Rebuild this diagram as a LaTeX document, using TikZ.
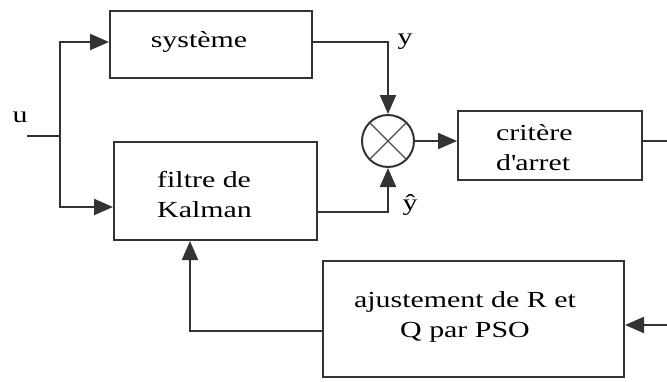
\documentclass[tikz,border=0pt]{standalone}
\usepackage{fontspec}
\setmainfont[FakeStretch=1.3]{Liberation Serif}
\usetikzlibrary{arrows.meta,calc}
\begin{document}
\begin{tikzpicture}[x=1pt,y=-1pt,
  ln/.style={draw=black!80,line width=2pt},
  box/.style={ln,rectangle,inner sep=0pt,minimum width=#1},
  txt/.style={inner sep=0pt,font=\fontsize{23}{30}\selectfont,text=black},
  arr/.style={ln,-{Triangle[length=19pt,width=16pt]}}]
\useasboundingbox (0,0) rectangle (667,381);
% boxes
\node[box=202pt,minimum height=67pt] (sys) at (211,44.5) {};
\node[box=203pt,minimum height=98pt] (kal) at (215.5,191) {};
\node[ln,circle,minimum size=52pt,inner sep=0pt] (mul) at (388,141) {};
\draw[draw=black!70,line width=1.2pt] (mul.north west) -- (mul.south east) (mul.north east) -- (mul.south west);
\node[box=184pt,minimum height=69pt] (crit) at (550,145.5) {};
\node[box=301pt,minimum height=116pt] (pso) at (473.5,319) {};
% texts
\node[txt] (tsys) at (199,42) {système};
\node[txt,anchor=west,align=left] (tkal) at (157,195) {filtre de\\Kalman};
\node[txt,anchor=west,align=left] (tcrit) at (496,148) {critère\\d\textquotesingle arret};
\node[txt,align=center] (tpso) at (465,317) {ajustement de R et\\Q par PSO};
\node[txt] (tu) at (20,117) {u};
\node[txt] (ty) at (405,42) {y};
\node[txt] (tyh) at (410,205) {ŷ};
% connectors
\coordinate (uin) at (27,136);
\coordinate (j) at (60,136);
\coordinate (a1) at (60,42);
\coordinate (a2) at (60,207);
\draw[ln] (uin) -- (j);
\draw[arr] (j) -- (a1) -- (a1 -| sys.west);
\draw[arr] (j) -- (a2) -- (a2 -| kal.west);
\draw[arr] (sys.east |- a1) -| (mul.north);
\coordinate (ko) at (317,212);
\draw[arr] (ko) -| (mul.south);
\draw[arr] (mul.east) -- (mul.east -| crit.west);
\coordinate (cout) at (667,141);
\draw[ln] (cout -| crit.east) -- (cout);
\coordinate (pin) at (667,325);
\draw[arr] (pin) -- (pin -| pso.east);
\coordinate (kb) at (190,331);
\draw[arr] (kb -| pso.west) -- (kb) -- (kb |- kal.south);
\end{tikzpicture}
\end{document}
